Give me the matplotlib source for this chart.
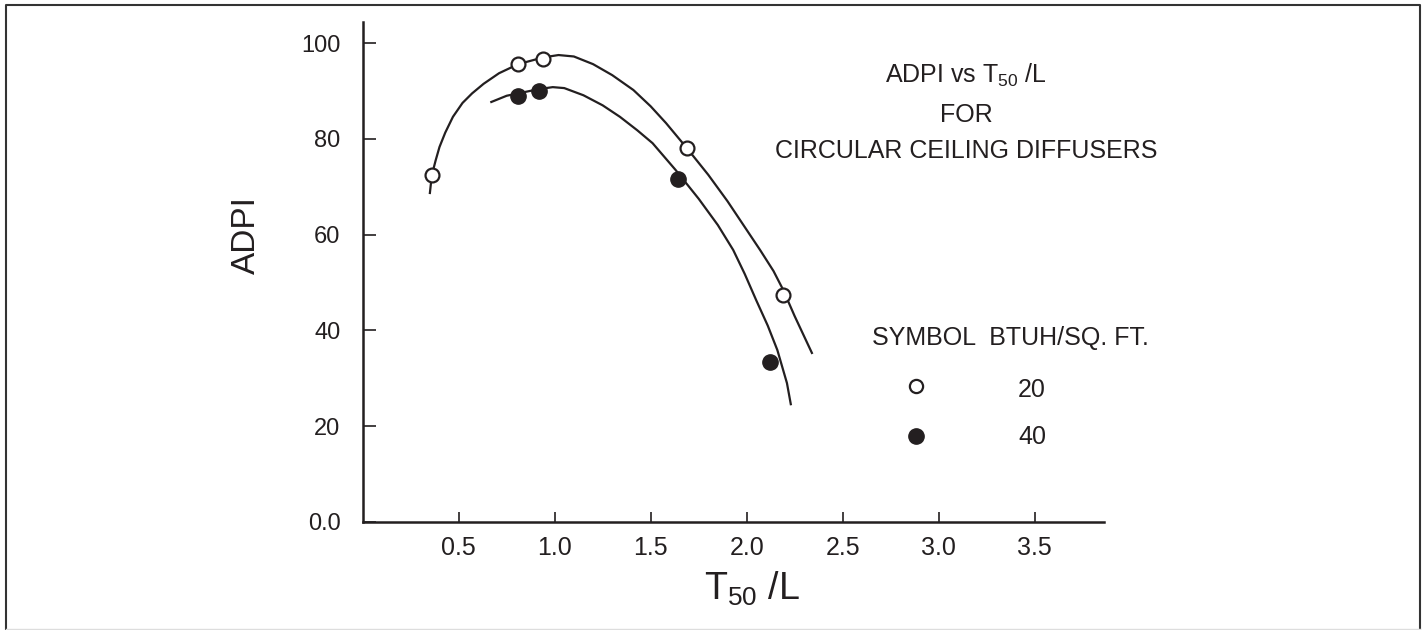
import matplotlib
matplotlib.use('Agg')
import matplotlib.pyplot as plt
from matplotlib.lines import Line2D

# ADPI readings (BTUH/sq.ft. = 20 open, 40 filled)
x_20 = [0.36, 0.81, 0.94, 1.69, 2.19]
adpi_20 = [72.4, 95.6, 96.6, 78.0, 47.4]
x_40 = [0.81, 0.92, 1.64, 2.12]
adpi_40 = [88.9, 90.0, 71.6, 33.4]

# hand-drawn fit curves
curve_20_x = [0.35, 0.36, 0.38, 0.40, 0.43, 0.47, 0.52, 0.57, 0.63, 0.71, 0.81,
              0.94, 1.02, 1.10, 1.20, 1.30, 1.41, 1.50, 1.58, 1.69, 1.80, 1.90,
              2.00, 2.07, 2.14, 2.19, 2.25, 2.34]
curve_20_y = [68.7, 72.4, 75.5, 78.3, 81.3, 84.6, 87.5, 89.5, 91.5, 93.7, 95.6,
              97.0, 97.5, 97.2, 95.6, 93.3, 90.2, 86.8, 83.3, 78.0, 72.5, 67.0,
              61.0, 56.8, 52.4, 48.5, 43.0, 35.3]
curve_40_x = [0.67, 0.75, 0.81, 0.92, 0.99, 1.05, 1.15, 1.25, 1.34, 1.43, 1.51,
              1.63, 1.75, 1.85, 1.93, 1.99, 2.05, 2.11, 2.16, 2.21, 2.23]
curve_40_y = [87.7, 89.0, 89.5, 90.4, 90.8, 90.6, 89.1, 87.0, 84.6, 81.8, 79.1,
              73.5, 67.5, 62.0, 56.8, 51.8, 46.3, 41.0, 35.9, 29.0, 24.6]

xticks = [0.5, 1.0, 1.5, 2.0, 2.5, 3.0, 3.5]
yticks = [0, 20, 40, 60, 80, 100]
ytick_labels = ['0.0', '20', '40', '60', '80', '100']
legend_values = ['20', '40']

ink = '#231f20'
plt.rcParams['font.family'] = ['Liberation Sans', 'DejaVu Sans']
narrow = ['Liberation Sans Narrow', 'Liberation Sans', 'DejaVu Sans']

fig = plt.figure(figsize=(14.24, 6.30), dpi=100)
ax = fig.add_axes([362.7 / 1424, 1 - 522 / 630, 741 / 1424, 500 / 630])

ax.plot(curve_20_x, curve_20_y, color=ink, lw=1.6)
ax.plot(curve_40_x, curve_40_y, color=ink, lw=1.6)
ax.plot(x_20, adpi_20, 'o', ms=10, mfc='white', mec=ink, mew=1.6, zorder=3)
ax.plot(x_40, adpi_40, 'o', ms=11, mfc=ink, mec=ink, zorder=3)

ax.set_xlim(0, 3.86)
ax.set_ylim(0, 104.4)
for s in ['top', 'right']:
    ax.spines[s].set_visible(False)
for s in ['left', 'bottom']:
    ax.spines[s].set_linewidth(1.8)
    ax.spines[s].set_color(ink)

ax.set_xticks(xticks)
ax.set_xticklabels([f'{v:.1f}' for v in xticks], family=narrow, fontsize=18)
ax.set_yticks(yticks)
ax.set_yticklabels(ytick_labels, fontsize=17)
ax.tick_params(axis='both', direction='in', color=ink, labelcolor=ink, width=1.2)
ax.tick_params(axis='x', length=7.5, pad=10)
ax.tick_params(axis='y', length=9, pad=16)

ax.set_xlabel(r'$\mathregular{T_{50}}$ /L', family=narrow, fontsize=27, color=ink)
ax.xaxis.set_label_coords(0.525, -0.096)
ax.set_ylabel('ADPI', fontsize=24, color=ink)
ax.yaxis.set_label_coords(-0.136, 0.574)

# title block
fig.text(966 / 1424, 1 - 83 / 630, r'ADPI vs T$\mathregular{_{50}}$ /L',
         ha='center', va='baseline', fontsize=18, color=ink)
fig.text(966 / 1424, 1 - 121.7 / 630, 'FOR', ha='center', va='baseline',
         fontsize=18, color=ink)
fig.text(966 / 1424, 1 - 158 / 630, 'CIRCULAR CEILING DIFFUSERS', ha='center',
         va='baseline', fontsize=18, color=ink)

# symbol key
fig.text(1010 / 1424, 1 - 345 / 630, 'SYMBOL  BTUH/SQ. FT.', ha='center',
         va='baseline', fontsize=18, color=ink)
fig.text(1032 / 1424, 1 - 397 / 630, legend_values[0], ha='center',
         va='baseline', fontsize=18, color=ink)
fig.text(1032 / 1424, 1 - 444 / 630, legend_values[1], ha='center',
         va='baseline', fontsize=18, color=ink)
fig.add_artist(Line2D([916 / 1424], [1 - 386 / 630], marker='o', ms=9.5,
                      mfc='white', mec=ink, mew=1.6, transform=fig.transFigure))
fig.add_artist(Line2D([916 / 1424], [1 - 436 / 630], marker='o', ms=11,
                      mfc=ink, mec=ink, transform=fig.transFigure))

# outer frame
l, r, t, b = 5.5 / 1424, 1420 / 1424, 1 - 4.5 / 630, 1 - 629 / 630
fig.add_artist(Line2D([l, l, r, r], [b, t, t, b], color='#333333', lw=1.5,
                      transform=fig.transFigure))
fig.add_artist(Line2D([l, r], [b, b], color='#dddddd', lw=1.0,
                      transform=fig.transFigure))

fig.savefig('out.png', dpi=100)
